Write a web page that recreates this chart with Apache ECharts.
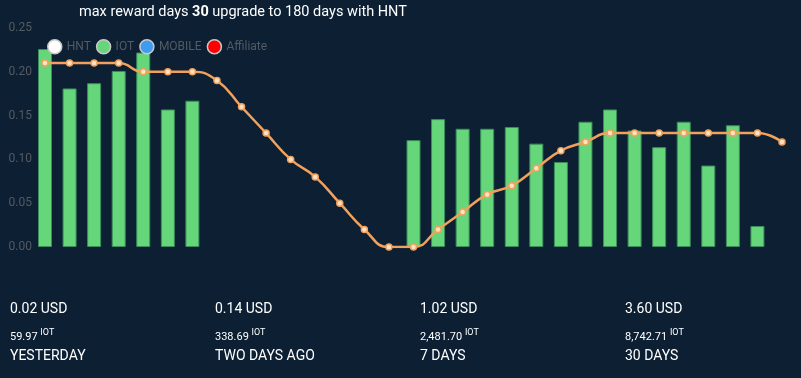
<!DOCTYPE html>
<html><head><meta charset="utf-8">
<script src="https://cdn.jsdelivr.net/npm/echarts@6/dist/echarts.min.js"></script>
<style>
html,body{margin:0;padding:0;background:#0c1f33;width:801px;height:378px;overflow:hidden;font-family:Roboto,sans-serif;}
#chart{position:absolute;left:0;top:0;width:801px;height:378px;}
.col{position:absolute;color:#fff;white-space:nowrap;}
.usd{font-size:14px;line-height:14px;}
.tok{font-size:11px;line-height:11px;}
.tok sup{font-size:9px;vertical-align:5px;line-height:0;}
.lbl{font-size:14px;line-height:14px;}
</style></head><body>
<div id="chart"></div>
<div id="stats"></div>
<script>
// ---- data ----
const categories = ['1','2','3','4','5','6','7','8','9','10','11','12','13','14','15','16','17','18','19','20','21','22','23','24','25','26','27','28','29','30','31'];
const legendNames = ['HNT','IOT','MOBILE','Affiliate'];
const hntValues = [];
const iotValues = [0.226,0.181,0.187,0.201,0.222,0.157,0.167,null,null,null,null,null,null,null,null,0.122,0.146,0.135,0.135,0.137,0.118,0.097,0.143,0.157,0.133,0.114,0.143,0.093,0.139,0.024,null];
const mobileValues = [];
const affiliateValues = [];
const trendValues = [0.21,0.21,0.21,0.21,0.20,0.20,0.20,0.19,0.16,0.13,0.10,0.08,0.05,0.02,0.00,0.00,0.02,0.04,0.06,0.07,0.09,0.11,0.12,0.13,0.13,0.13,0.13,0.13,0.13,0.13,0.12];
const yTicks = [0, 0.25, 0.05];
const statUsd = ['0.02 USD','0.14 USD','1.02 USD','3.60 USD'];
const statTok = ['59.97','338.69','2,481.70','8,742.71'];
const statTokUnit = 'IOT';
const statLabels = ['YESTERDAY','TWO DAYS AGO','7 DAYS','30 DAYS'];
const titleParts = ['max reward days ','30',' upgrade to 180 days with HNT'];

// ---- stats (html text) ----
const stats = document.getElementById('stats');
const colX = [10,215,420,625];
statUsd.forEach((u,i)=>{
  const a=document.createElement('div');a.className='col usd';a.style.left=colX[i]+'px';a.style.top='301px';a.textContent=u;stats.appendChild(a);
  const b=document.createElement('div');b.className='col tok';b.style.left=colX[i]+'px';b.style.top='331px';b.innerHTML=statTok[i]+' <sup>'+statTokUnit+'</sup>';stats.appendChild(b);
  const c=document.createElement('div');c.className='col lbl';c.style.left=colX[i]+'px';c.style.top='348px';c.textContent=statLabels[i];stats.appendChild(c);
});

// ---- chart ----
const chart = echarts.init(document.getElementById('chart'));
const legendColors = {HNT:'#ffffff', IOT:'#66d67a', MOBILE:'#3d9bf0', Affiliate:'#ff0000'};
function barSeries(name, data){
  return {name, type:'bar', stack:'total', data, barWidth:14,
    itemStyle:{color:legendColors[name], borderColor: name==='IOT'?'#3b8d5b':legendColors[name], borderWidth:1}};
}
chart.setOption({
  backgroundColor:'#0c1f33',
  textStyle:{fontFamily:'Roboto, sans-serif'},
  title:{
    left:74, top:0,
    text:'{a|'+titleParts[0]+'}{b|'+titleParts[1]+'}{a|'+titleParts[2]+'}',
    textStyle:{fontWeight:'normal', rich:{
      a:{color:'#ffffff', fontSize:14.5, fontWeight:'normal', fontFamily:'Roboto, sans-serif'},
      b:{color:'#ffffff', fontSize:14.5, fontWeight:'bold', fontFamily:'Roboto, sans-serif'}
    }}
  },
  legend:{
    data:legendNames, left:42, top:34, icon:'circle', itemWidth:14, itemHeight:14, itemGap:5,
    textStyle:{color:'#555b63', fontSize:12},
    itemStyle:{borderColor:'#c8c8c8', borderWidth:1.5}
  },
  grid:{left:45, right:19, top:28, bottom:131, containLabel:false},
  xAxis:{type:'category', data:categories, boundaryGap:false, show:false},
  yAxis:{type:'value', min:yTicks[0], max:yTicks[1], interval:yTicks[2],
    axisLine:{show:false}, axisTick:{show:false}, splitLine:{show:false},
    axisLabel:{color:'#555b63', fontSize:12, margin:13, formatter:v=>v.toFixed(2)}},
  series:[
    barSeries('HNT', hntValues),
    barSeries('IOT', iotValues),
    barSeries('MOBILE', mobileValues),
    barSeries('Affiliate', affiliateValues),
    {name:'trend', type:'line', data:trendValues, smooth:true, symbol:'circle', symbolSize:6,
     lineStyle:{color:'#f2a15c', width:2.5},
     itemStyle:{color:'#ffe2c4', borderColor:'#f2a15c', borderWidth:1.5}, z:5}
  ]
});
</script>
</body></html>
